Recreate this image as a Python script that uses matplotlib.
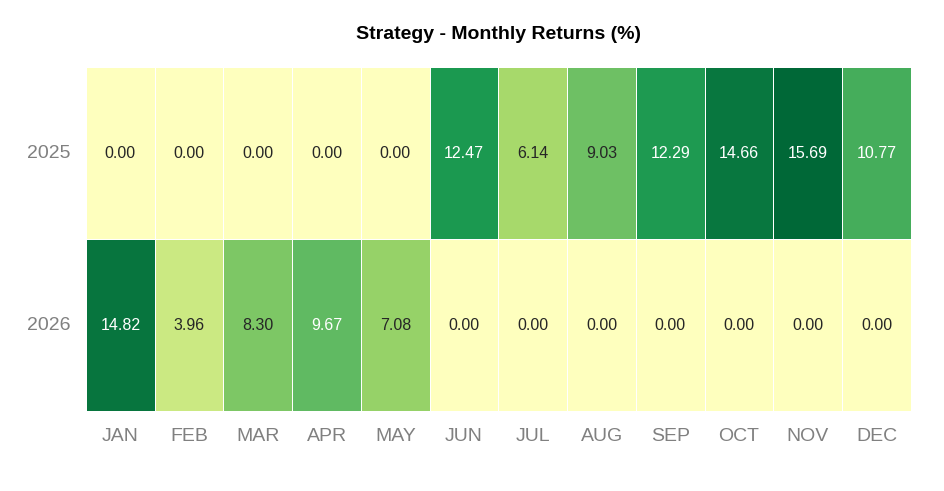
import numpy as np
import pandas as pd
import matplotlib
matplotlib.use("Agg")
import matplotlib.pyplot as plt
import seaborn as sns

years = ["2025", "2026"]
months = ["JAN", "FEB", "MAR", "APR", "MAY", "JUN",
          "JUL", "AUG", "SEP", "OCT", "NOV", "DEC"]
returns_2025 = [0.00, 0.00, 0.00, 0.00, 0.00, 12.47, 6.14, 9.03, 12.29, 14.66, 15.69, 10.77]
returns_2026 = [14.82, 3.96, 8.30, 9.67, 7.08, 0.00, 0.00, 0.00, 0.00, 0.00, 0.00, 0.00]

plt.rcParams['font.family'] = ['Liberation Sans', 'DejaVu Sans']

returns = pd.DataFrame([returns_2025, returns_2026], index=years, columns=months)

fig = plt.figure(figsize=(9.44, 4.91), dpi=100)
ax = fig.add_axes([86 / 944, 1 - 411 / 491, (911 - 86) / 944, (411 - 67) / 491])

sns.heatmap(returns, ax=ax, annot=True, fmt="0.2f", center=0, cmap="RdYlGn",
            linewidths=0.5, cbar=False, annot_kws={"size": 11.5})

ax.set_title("Strategy - Monthly Returns (%)", fontsize=14, fontweight="bold",
             pad=20)
ax.set_xlabel("")
ax.set_ylabel("")
ax.tick_params(axis="both", length=0, labelsize=14, labelcolor="#808080")
ax.tick_params(axis="x", pad=12.5)
ax.tick_params(axis="y", pad=11)
plt.setp(ax.get_yticklabels(), rotation=0)
plt.setp(ax.get_xticklabels(), rotation=0)

fig.savefig("out.png", dpi=100)
